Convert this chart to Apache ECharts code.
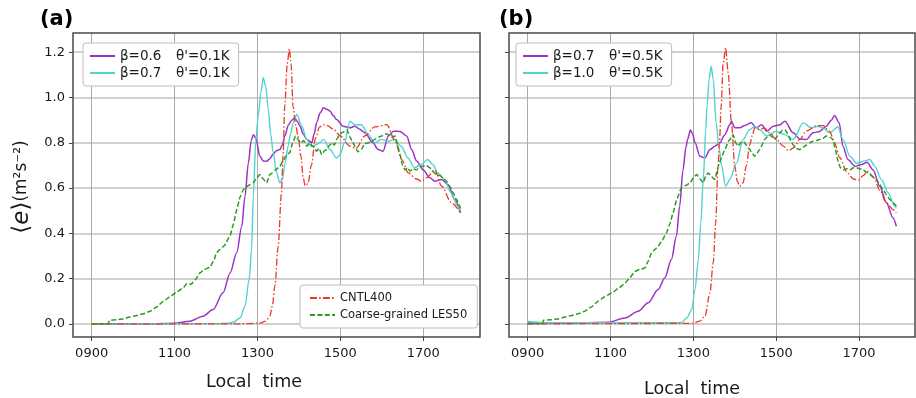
<!DOCTYPE html>
<html><head><meta charset="utf-8">
<script src="https://cdn.jsdelivr.net/npm/echarts@6/dist/echarts.min.js"></script>
<style>html,body{margin:0;padding:0;background:#fff}#c{width:916px;height:398px}</style>
</head><body><div id="c"></div>
<script>
// ---- data (time in decimal hours, value in m^2 s^-2) ----
const xTicks = [9, 11, 13, 15, 17];
const yTicks = [0, 0.2, 0.4, 0.6, 0.8, 1.0, 1.2];

// panel (a)
const aBeta06 = [[9.0,0.0],[10.5,0.001],[11.0,0.003],[11.37,0.012],[11.69,0.034],[11.93,0.063],[12.17,0.137],[12.34,0.225],[12.5,0.314],[12.62,0.43],[12.7,0.564],[12.78,0.71],[12.85,0.81],[12.9,0.836],[12.96,0.82],[13.06,0.74],[13.14,0.72],[13.22,0.718],[13.3,0.73],[13.38,0.75],[13.46,0.765],[13.54,0.77],[13.6,0.79],[13.66,0.83],[13.75,0.88],[13.83,0.90],[13.9,0.91],[13.96,0.895],[14.03,0.873],[14.1,0.84],[14.19,0.815],[14.31,0.80],[14.37,0.84],[14.43,0.89],[14.51,0.93],[14.59,0.955],[14.67,0.948],[14.75,0.94],[14.83,0.92],[14.91,0.903],[15.07,0.873],[15.23,0.866],[15.35,0.873],[15.47,0.86],[15.59,0.844],[15.79,0.80],[15.91,0.77],[16.03,0.763],[16.16,0.83],[16.28,0.851],[16.44,0.85],[16.6,0.83],[16.72,0.77],[16.84,0.72],[17.0,0.68],[17.16,0.645],[17.28,0.63],[17.44,0.638],[17.6,0.615],[17.76,0.55],[17.9,0.49]];
const aBeta07 = [[9.0,0.0],[12.0,0.001],[12.3,0.003],[12.42,0.007],[12.58,0.026],[12.7,0.078],[12.8,0.196],[12.86,0.33],[12.9,0.564],[12.96,0.81],[13.02,0.92],[13.08,1.02],[13.14,1.087],[13.2,1.05],[13.26,0.95],[13.32,0.84],[13.38,0.756],[13.46,0.67],[13.54,0.623],[13.6,0.64],[13.67,0.71],[13.74,0.785],[13.8,0.84],[13.86,0.888],[13.95,0.925],[14.07,0.873],[14.19,0.815],[14.29,0.785],[14.4,0.79],[14.5,0.80],[14.6,0.815],[14.75,0.77],[14.91,0.733],[15.0,0.75],[15.1,0.80],[15.23,0.895],[15.35,0.88],[15.51,0.88],[15.67,0.836],[15.83,0.80],[15.99,0.815],[16.15,0.807],[16.31,0.815],[16.47,0.785],[16.63,0.733],[16.79,0.69],[16.95,0.704],[17.11,0.726],[17.23,0.704],[17.35,0.667],[17.51,0.638],[17.67,0.58],[17.83,0.52],[17.9,0.50]];
const aCntl = [[9.0,0.0],[12.5,0.0],[13.06,0.003],[13.2,0.012],[13.3,0.034],[13.36,0.08],[13.42,0.166],[13.5,0.34],[13.58,0.58],[13.62,0.75],[13.66,0.965],[13.72,1.15],[13.77,1.215],[13.81,1.15],[13.86,0.96],[13.92,0.88],[13.98,0.83],[14.05,0.74],[14.1,0.65],[14.15,0.61],[14.22,0.62],[14.3,0.70],[14.4,0.82],[14.5,0.87],[14.59,0.88],[14.7,0.875],[14.83,0.86],[15.0,0.83],[15.23,0.785],[15.38,0.775],[15.59,0.83],[15.83,0.87],[16.12,0.88],[16.32,0.81],[16.48,0.726],[16.64,0.667],[16.84,0.64],[16.96,0.63],[17.08,0.645],[17.28,0.68],[17.44,0.61],[17.68,0.535],[17.9,0.49]];
const aLes50 = [[9.0,0.0],[9.4,0.0],[9.43,0.016],[9.6,0.018],[9.76,0.022],[9.92,0.03],[10.09,0.037],[10.25,0.045],[10.41,0.056],[10.57,0.075],[10.73,0.10],[10.89,0.12],[11.05,0.14],[11.2,0.158],[11.3,0.178],[11.4,0.175],[11.5,0.195],[11.61,0.225],[11.72,0.24],[11.85,0.25],[11.95,0.28],[12.01,0.314],[12.1,0.33],[12.2,0.345],[12.34,0.39],[12.42,0.44],[12.5,0.505],[12.58,0.56],[12.66,0.593],[12.72,0.605],[12.82,0.615],[12.9,0.623],[12.98,0.645],[13.06,0.66],[13.14,0.64],[13.22,0.623],[13.3,0.66],[13.36,0.667],[13.44,0.68],[13.54,0.696],[13.62,0.72],[13.7,0.745],[13.78,0.756],[13.85,0.80],[13.92,0.83],[13.98,0.815],[14.05,0.80],[14.12,0.81],[14.19,0.785],[14.26,0.80],[14.33,0.785],[14.43,0.763],[14.49,0.775],[14.55,0.748],[14.62,0.765],[14.67,0.77],[14.74,0.79],[14.8,0.80],[14.86,0.79],[14.91,0.815],[14.97,0.83],[15.03,0.844],[15.1,0.85],[15.16,0.858],[15.22,0.83],[15.28,0.81],[15.35,0.785],[15.42,0.76],[15.51,0.77],[15.58,0.795],[15.67,0.80],[15.75,0.805],[15.83,0.815],[15.92,0.825],[16.0,0.83],[16.08,0.84],[16.16,0.836],[16.24,0.825],[16.32,0.83],[16.38,0.79],[16.44,0.748],[16.5,0.70],[16.56,0.68],[16.62,0.69],[16.68,0.675],[16.76,0.685],[16.84,0.68],[16.92,0.695],[17.0,0.696],[17.08,0.70],[17.16,0.69],[17.24,0.672],[17.32,0.66],[17.4,0.655],[17.48,0.645],[17.56,0.63],[17.64,0.608],[17.72,0.58],[17.8,0.55],[17.9,0.51]];

// panel (b)
const bBeta07 = [[9.0,0.004],[10.0,0.004],[10.94,0.007],[11.35,0.026],[11.67,0.056],[11.91,0.093],[12.15,0.152],[12.31,0.203],[12.47,0.284],[12.59,0.387],[12.67,0.52],[12.75,0.68],[12.82,0.78],[12.86,0.815],[12.93,0.856],[12.98,0.84],[13.04,0.80],[13.16,0.74],[13.28,0.733],[13.4,0.77],[13.52,0.785],[13.64,0.80],[13.76,0.836],[13.88,0.88],[13.92,0.895],[14.0,0.866],[14.12,0.866],[14.24,0.876],[14.4,0.888],[14.52,0.866],[14.65,0.88],[14.77,0.851],[14.93,0.873],[15.09,0.88],[15.21,0.895],[15.41,0.844],[15.57,0.817],[15.73,0.815],[15.89,0.844],[16.05,0.85],[16.21,0.873],[16.33,0.9],[16.41,0.92],[16.52,0.888],[16.61,0.785],[16.73,0.726],[16.9,0.696],[17.06,0.704],[17.19,0.714],[17.34,0.68],[17.5,0.608],[17.66,0.535],[17.82,0.468],[17.9,0.431]];
const bBeta10 = [[9.0,0.012],[9.2,0.008],[9.4,0.005],[12.71,0.005],[12.84,0.026],[12.96,0.063],[13.04,0.152],[13.12,0.284],[13.18,0.446],[13.24,0.638],[13.3,0.858],[13.33,0.962],[13.38,1.08],[13.43,1.138],[13.48,1.08],[13.55,0.888],[13.62,0.78],[13.68,0.70],[13.78,0.608],[13.88,0.638],[14.04,0.71],[14.2,0.815],[14.36,0.858],[14.48,0.873],[14.6,0.858],[14.77,0.83],[15.0,0.851],[15.21,0.836],[15.41,0.815],[15.65,0.888],[15.85,0.866],[16.01,0.873],[16.12,0.866],[16.29,0.844],[16.49,0.87],[16.61,0.815],[16.78,0.74],[16.94,0.71],[17.14,0.72],[17.26,0.726],[17.38,0.696],[17.54,0.638],[17.7,0.58],[17.86,0.52],[17.9,0.51]];
const bCntl = [[9.0,0.0],[12.96,0.002],[13.16,0.012],[13.28,0.034],[13.4,0.137],[13.48,0.27],[13.54,0.446],[13.59,0.68],[13.63,0.8],[13.67,0.96],[13.72,1.15],[13.78,1.22],[13.84,1.11],[13.92,0.888],[14.0,0.696],[14.06,0.63],[14.12,0.608],[14.2,0.623],[14.28,0.70],[14.36,0.79],[14.42,0.83],[14.48,0.866],[14.6,0.858],[14.72,0.866],[14.84,0.844],[15.0,0.815],[15.17,0.785],[15.3,0.765],[15.42,0.778],[15.57,0.815],[15.73,0.852],[15.97,0.875],[16.13,0.876],[16.29,0.85],[16.41,0.80],[16.53,0.735],[16.7,0.672],[16.86,0.64],[16.98,0.635],[17.1,0.655],[17.2,0.675],[17.36,0.645],[17.5,0.59],[17.66,0.535],[17.82,0.505],[17.9,0.49]];
const bLes50 = [[9.0,0.0],[9.36,0.0],[9.38,0.016],[9.55,0.018],[9.74,0.022],[9.9,0.03],[10.06,0.037],[10.22,0.045],[10.38,0.056],[10.54,0.075],[10.7,0.10],[10.86,0.12],[11.03,0.137],[11.2,0.158],[11.35,0.18],[11.45,0.2],[11.59,0.232],[11.7,0.24],[11.83,0.247],[11.92,0.28],[11.99,0.314],[12.08,0.33],[12.15,0.343],[12.25,0.37],[12.35,0.402],[12.43,0.44],[12.51,0.49],[12.6,0.55],[12.71,0.60],[12.8,0.61],[12.92,0.623],[13.0,0.645],[13.08,0.66],[13.16,0.64],[13.24,0.623],[13.3,0.655],[13.36,0.667],[13.44,0.65],[13.52,0.638],[13.6,0.696],[13.68,0.735],[13.76,0.77],[13.86,0.81],[13.96,0.836],[14.02,0.80],[14.08,0.785],[14.14,0.80],[14.2,0.807],[14.28,0.79],[14.36,0.77],[14.42,0.755],[14.48,0.74],[14.54,0.755],[14.6,0.77],[14.66,0.79],[14.72,0.815],[14.78,0.825],[14.84,0.836],[14.9,0.825],[14.97,0.815],[15.03,0.83],[15.09,0.844],[15.15,0.855],[15.21,0.858],[15.28,0.84],[15.35,0.81],[15.41,0.79],[15.49,0.775],[15.57,0.77],[15.65,0.78],[15.73,0.79],[15.81,0.80],[15.89,0.807],[15.97,0.81],[16.05,0.815],[16.13,0.82],[16.21,0.83],[16.29,0.825],[16.37,0.815],[16.43,0.77],[16.49,0.72],[16.55,0.69],[16.61,0.68],[16.7,0.685],[16.78,0.68],[16.86,0.69],[16.94,0.69],[17.02,0.685],[17.1,0.68],[17.18,0.67],[17.26,0.66],[17.34,0.65],[17.42,0.638],[17.5,0.615],[17.58,0.593],[17.66,0.57],[17.74,0.55],[17.82,0.535],[17.9,0.52]];

const legendText = {
  a06: ['β=0.6', "θ'=0.1K"],
  a07: ['β=0.7', "θ'=0.1K"],
  b07: ['β=0.7', "θ'=0.5K"],
  b10: ['β=1.0', "θ'=0.5K"]
};

// ---- styling ----
const FONT = 'DejaVu Sans';
const C_PURPLE = '#9a33c6', C_CYAN = '#4fd3d0', C_RED = '#ea3a22', C_GREEN = '#2b9a1f';
const DASHDOT = [7, 2.2, 1.5, 2.2], DASH = [5, 2.4];

function ser(name, data, idx, color, width, type, smooth) {
  return {
    type: 'line', name, data, xAxisIndex: idx, yAxisIndex: idx,
    showSymbol: false, symbol: 'none', smooth: smooth, smoothMonotone: 'x',
    lineStyle: { color, width, type }, itemStyle: { color }, z: 3
  };
}

function xAxisCfg(idx, max) {
  return {
    type: 'value', gridIndex: idx, min: 8.55, max,
    axisLine: { show: false, onZero: false },
    axisTick: { show: true, customValues: xTicks, length: 4, inside: false, lineStyle: { color: '#444', width: 1 } },
    axisLabel: { show: true, customValues: xTicks, margin: 10, fontFamily: FONT, fontSize: 13, color: '#1a1a1a',
      formatter: v => String(Math.round(v * 100)).padStart(4, '0') },
    splitLine: { show: true, lineStyle: { color: '#ababab', width: 1 } }
  };
}
function yAxisCfg(idx, showLabel) {
  return {
    type: 'value', gridIndex: idx, min: -0.058, max: 1.285,
    axisLine: { show: false, onZero: false },
    axisTick: { show: true, customValues: yTicks, length: 4, lineStyle: { color: '#444', width: 1 } },
    axisLabel: { show: showLabel, customValues: yTicks, margin: 8, fontFamily: FONT, fontSize: 13, color: '#1a1a1a',
      formatter: v => v.toFixed(1) },
    splitLine: { show: true, lineStyle: { color: '#c2c2c2', width: 1.5 } }
  };
}

function legendCfg(data, left, top, fontSize, padding, rich) {
  return {
    data, left, top, orient: 'vertical', itemGap: 3, itemWidth: 25, itemHeight: 10,
    padding, backgroundColor: '#fff', borderColor: '#bdbdbd', borderWidth: 1, borderRadius: 3,
    selectedMode: false,
    itemStyle: { opacity: 0, borderWidth: 0 },
    formatter: n => legendText[n] ? '{a|' + legendText[n][0] + '}{b|' + legendText[n][1] + '}' : n,
    textStyle: { fontFamily: FONT, fontSize, color: '#1a1a1a', lineHeight: 14, rich }
  };
}

const richTop = {
  a: { fontFamily: FONT, fontSize: 13.5, color: '#1a1a1a', width: 56, lineHeight: 14 },
  b: { fontFamily: FONT, fontSize: 13.5, color: '#1a1a1a', lineHeight: 14 }
};

const chart = echarts.init(document.getElementById('c'), null, { renderer: 'canvas' });
chart.setOption({
  animation: false,
  backgroundColor: '#fff',
  grid: [
    { left: 73, top: 33, width: 407, height: 304, show: true, borderColor: '#4a4a4a', borderWidth: 1.5, backgroundColor: 'transparent', z: 5 },
    { left: 509, top: 33, width: 406, height: 304, show: true, borderColor: '#4a4a4a', borderWidth: 1.5, backgroundColor: 'transparent', z: 5 }
  ],
  xAxis: [xAxisCfg(0, 18.37), xAxisCfg(1, 18.35)],
  yAxis: [yAxisCfg(0, true), yAxisCfg(1, false)],
  legend: [
    legendCfg(['a06', 'a07'], 83, 43, 13.5, [6, 9, 6, 6], richTop),
    legendCfg(['CNTL400', 'Coarse-grained LES50'], 300, 285, 11.5, [6, 10, 6, 9], {}),
    legendCfg(['b07', 'b10'], 516, 43, 13.5, [6, 9, 6, 6], richTop)
  ],
  series: [
    ser('a06', aBeta06, 0, C_PURPLE, 1.5, 'solid', 0.3),
    ser('a07', aBeta07, 0, C_CYAN, 1.4, 'solid', 0.3),
    ser('CNTL400', aCntl, 0, C_RED, 1.3, DASHDOT, 0.3),
    ser('Coarse-grained LES50', aLes50, 0, C_GREEN, 1.5, DASH, 0.15),
    ser('b07', bBeta07, 1, C_PURPLE, 1.5, 'solid', 0.3),
    ser('b10', bBeta10, 1, C_CYAN, 1.4, 'solid', 0.3),
    ser('CNTL400', bCntl, 1, C_RED, 1.3, DASHDOT, 0.3),
    ser('Coarse-grained LES50', bLes50, 1, C_GREEN, 1.5, DASH, 0.15)
  ],
  graphic: [
    { type: 'text', left: 40, top: 9, style: { text: '(a)', font: 'bold 21px "DejaVu Sans"', fill: '#000' } },
    { type: 'text', left: 499, top: 9, style: { text: '(b)', font: 'bold 21px "DejaVu Sans"', fill: '#000' } },
    { type: 'text', x: 254, y: 382, style: { text: 'Local  time', font: '17.5px "DejaVu Sans"', fill: '#1a1a1a', align: 'center', verticalAlign: 'middle' } },
    { type: 'text', x: 692, y: 389, style: { text: 'Local  time', font: '17.5px "DejaVu Sans"', fill: '#1a1a1a', align: 'center', verticalAlign: 'middle' } },
    { type: 'text', x: 22, y: 187, rotation: Math.PI / 2,
      style: {
        text: '{br|\u27e8}{e|e}{br|\u27e9}{u|(m²s⁻²)}',
        align: 'center', verticalAlign: 'middle', fill: '#1a1a1a',
        rich: {
          br: { fontFamily: FONT, fontSize: 23, fill: '#1a1a1a' },
          e: { fontFamily: FONT, fontSize: 23, fontStyle: 'italic', fill: '#1a1a1a' },
          u: { fontFamily: FONT, fontSize: 17, fill: '#1a1a1a' }
        }
      } }
  ]
});
</script>
</body></html>
